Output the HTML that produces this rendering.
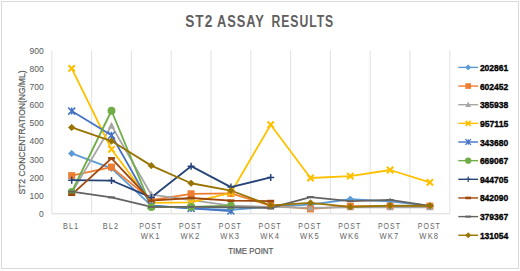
<!DOCTYPE html><html><head><meta charset="utf-8"><style>html,body{margin:0;padding:0;background:#fff;overflow:hidden;}svg{display:block;font-family:"Liberation Sans",sans-serif;}</style></head><body>
<svg width="520" height="271" viewBox="0 0 520 271">
<rect x="0" y="0" width="520" height="271" fill="#fff"/>
<rect x="1.5" y="1.5" width="517" height="267" fill="#fff" stroke="#D9D9D9" stroke-width="1"/>
<text x="185.20" y="27.4" font-size="15.6" font-weight="bold" fill="#5F5F5F" letter-spacing="1.2" textLength="28.20" lengthAdjust="spacingAndGlyphs">ST2</text>
<text x="216.90" y="27.4" font-size="15.6" font-weight="bold" fill="#5F5F5F" letter-spacing="1.2" textLength="48.00" lengthAdjust="spacingAndGlyphs">ASSAY</text>
<text x="271.50" y="27.4" font-size="15.6" font-weight="bold" fill="#5F5F5F" letter-spacing="1.2" textLength="62.60" lengthAdjust="spacingAndGlyphs">RESULTS</text>
<line x1="51.80" y1="50.20" x2="51.80" y2="213.80" stroke="#E4E4E4" stroke-width="1.1"/>
<line x1="91.60" y1="50.20" x2="91.60" y2="213.80" stroke="#E4E4E4" stroke-width="1.1"/>
<line x1="131.40" y1="50.20" x2="131.40" y2="213.80" stroke="#E4E4E4" stroke-width="1.1"/>
<line x1="171.20" y1="50.20" x2="171.20" y2="213.80" stroke="#E4E4E4" stroke-width="1.1"/>
<line x1="211.00" y1="50.20" x2="211.00" y2="213.80" stroke="#E4E4E4" stroke-width="1.1"/>
<line x1="250.80" y1="50.20" x2="250.80" y2="213.80" stroke="#E4E4E4" stroke-width="1.1"/>
<line x1="290.60" y1="50.20" x2="290.60" y2="213.80" stroke="#E4E4E4" stroke-width="1.1"/>
<line x1="330.40" y1="50.20" x2="330.40" y2="213.80" stroke="#E4E4E4" stroke-width="1.1"/>
<line x1="370.20" y1="50.20" x2="370.20" y2="213.80" stroke="#E4E4E4" stroke-width="1.1"/>
<line x1="410.00" y1="50.20" x2="410.00" y2="213.80" stroke="#E4E4E4" stroke-width="1.1"/>
<line x1="449.80" y1="50.20" x2="449.80" y2="213.80" stroke="#E4E4E4" stroke-width="1.1"/>
<line x1="51.80" y1="213.80" x2="449.80" y2="213.80" stroke="#D9D9D9" stroke-width="1"/>
<text x="43.8" y="217.10" text-anchor="end" font-size="9.6" fill="#595959" textLength="4.75" lengthAdjust="spacingAndGlyphs">0</text>
<text x="43.8" y="198.92" text-anchor="end" font-size="9.6" fill="#595959" textLength="14.25" lengthAdjust="spacingAndGlyphs">100</text>
<text x="43.8" y="180.74" text-anchor="end" font-size="9.6" fill="#595959" textLength="14.25" lengthAdjust="spacingAndGlyphs">200</text>
<text x="43.8" y="162.57" text-anchor="end" font-size="9.6" fill="#595959" textLength="14.25" lengthAdjust="spacingAndGlyphs">300</text>
<text x="43.8" y="144.39" text-anchor="end" font-size="9.6" fill="#595959" textLength="14.25" lengthAdjust="spacingAndGlyphs">400</text>
<text x="43.8" y="126.21" text-anchor="end" font-size="9.6" fill="#595959" textLength="14.25" lengthAdjust="spacingAndGlyphs">500</text>
<text x="43.8" y="108.03" text-anchor="end" font-size="9.6" fill="#595959" textLength="14.25" lengthAdjust="spacingAndGlyphs">600</text>
<text x="43.8" y="89.86" text-anchor="end" font-size="9.6" fill="#595959" textLength="14.25" lengthAdjust="spacingAndGlyphs">700</text>
<text x="43.8" y="71.68" text-anchor="end" font-size="9.6" fill="#595959" textLength="14.25" lengthAdjust="spacingAndGlyphs">800</text>
<text x="43.8" y="53.50" text-anchor="end" font-size="9.6" fill="#595959" textLength="14.25" lengthAdjust="spacingAndGlyphs">900</text>
<text x="71.10" y="228.60" text-anchor="middle" font-size="8.8" fill="#666666" letter-spacing="1.3" textLength="16.20" lengthAdjust="spacingAndGlyphs">BL1</text>
<text x="110.90" y="228.60" text-anchor="middle" font-size="8.8" fill="#666666" letter-spacing="1.3" textLength="16.30" lengthAdjust="spacingAndGlyphs">BL2</text>
<text x="150.70" y="228.60" text-anchor="middle" font-size="8.8" fill="#666666" letter-spacing="1.3" textLength="23.10" lengthAdjust="spacingAndGlyphs">POST</text>
<text x="150.70" y="239.10" text-anchor="middle" font-size="8.8" fill="#666666" letter-spacing="1.3" textLength="19.90" lengthAdjust="spacingAndGlyphs">WK1</text>
<text x="190.50" y="228.60" text-anchor="middle" font-size="8.8" fill="#666666" letter-spacing="1.3" textLength="23.10" lengthAdjust="spacingAndGlyphs">POST</text>
<text x="190.50" y="239.10" text-anchor="middle" font-size="8.8" fill="#666666" letter-spacing="1.3" textLength="19.90" lengthAdjust="spacingAndGlyphs">WK2</text>
<text x="230.30" y="228.60" text-anchor="middle" font-size="8.8" fill="#666666" letter-spacing="1.3" textLength="23.10" lengthAdjust="spacingAndGlyphs">POST</text>
<text x="230.30" y="239.10" text-anchor="middle" font-size="8.8" fill="#666666" letter-spacing="1.3" textLength="19.90" lengthAdjust="spacingAndGlyphs">WK3</text>
<text x="270.10" y="228.60" text-anchor="middle" font-size="8.8" fill="#666666" letter-spacing="1.3" textLength="23.10" lengthAdjust="spacingAndGlyphs">POST</text>
<text x="270.10" y="239.10" text-anchor="middle" font-size="8.8" fill="#666666" letter-spacing="1.3" textLength="19.90" lengthAdjust="spacingAndGlyphs">WK4</text>
<text x="309.90" y="228.60" text-anchor="middle" font-size="8.8" fill="#666666" letter-spacing="1.3" textLength="23.10" lengthAdjust="spacingAndGlyphs">POST</text>
<text x="309.90" y="239.10" text-anchor="middle" font-size="8.8" fill="#666666" letter-spacing="1.3" textLength="19.90" lengthAdjust="spacingAndGlyphs">WK5</text>
<text x="349.70" y="228.60" text-anchor="middle" font-size="8.8" fill="#666666" letter-spacing="1.3" textLength="23.10" lengthAdjust="spacingAndGlyphs">POST</text>
<text x="349.70" y="239.10" text-anchor="middle" font-size="8.8" fill="#666666" letter-spacing="1.3" textLength="19.90" lengthAdjust="spacingAndGlyphs">WK6</text>
<text x="389.50" y="228.60" text-anchor="middle" font-size="8.8" fill="#666666" letter-spacing="1.3" textLength="23.10" lengthAdjust="spacingAndGlyphs">POST</text>
<text x="389.50" y="239.10" text-anchor="middle" font-size="8.8" fill="#666666" letter-spacing="1.3" textLength="19.90" lengthAdjust="spacingAndGlyphs">WK7</text>
<text x="429.30" y="228.60" text-anchor="middle" font-size="8.8" fill="#666666" letter-spacing="1.3" textLength="23.10" lengthAdjust="spacingAndGlyphs">POST</text>
<text x="429.30" y="239.10" text-anchor="middle" font-size="8.8" fill="#666666" letter-spacing="1.3" textLength="19.90" lengthAdjust="spacingAndGlyphs">WK8</text>
<text x="250.8" y="254.3" text-anchor="middle" font-size="9" fill="#595959" stroke="#595959" stroke-width="0.2" textLength="45" lengthAdjust="spacingAndGlyphs">TIME POINT</text>
<text transform="translate(24.6,132.5) rotate(-90)" x="0" y="0" text-anchor="middle" font-size="8.6" fill="#595959" stroke="#595959" stroke-width="0.2" textLength="124" lengthAdjust="spacingAndGlyphs">ST2 CONCENTRATION(NG/ML)</text>
<path d="M71.70 153.45L111.50 168.36L151.30 205.62L191.10 208.35L230.90 209.80L270.70 206.53L310.50 204.71L350.30 199.26L390.10 201.44L429.90 205.80" fill="none" stroke="#5B9BD5" stroke-width="1.8" stroke-linejoin="round" stroke-linecap="round"/>
<path d="M71.70 175.63L111.50 167.08L151.30 200.17L191.10 193.80L230.90 193.44L270.70 205.62L310.50 208.89L350.30 206.17L390.10 206.17L429.90 206.17" fill="none" stroke="#ED7D31" stroke-width="1.8" stroke-linejoin="round" stroke-linecap="round"/>
<path d="M71.70 192.90L111.50 125.64L151.30 194.71L191.10 200.17L230.90 205.62L270.70 206.89L310.50 207.80L350.30 207.26L390.10 207.26L429.90 207.26" fill="none" stroke="#A5A5A5" stroke-width="1.8" stroke-linejoin="round" stroke-linecap="round"/>
<path d="M71.70 68.38L111.50 149.27L151.30 202.89L191.10 202.35L230.90 192.90L270.70 124.73L310.50 177.99L350.30 176.17L390.10 169.99L429.90 182.35" fill="none" stroke="#FFC000" stroke-width="1.8" stroke-linejoin="round" stroke-linecap="round"/>
<path d="M71.70 111.10L111.50 135.27L151.30 205.62L191.10 208.35L230.90 211.07" fill="none" stroke="#4472C4" stroke-width="1.8" stroke-linejoin="round" stroke-linecap="round"/>
<path d="M71.70 191.99L111.50 110.73L151.30 207.07L191.10 206.89L230.90 205.62" fill="none" stroke="#70AD47" stroke-width="1.8" stroke-linejoin="round" stroke-linecap="round"/>
<path d="M71.70 180.17L111.50 180.53L151.30 197.44L191.10 166.17L230.90 187.08L270.70 177.44" fill="none" stroke="#264478" stroke-width="1.8" stroke-linejoin="round" stroke-linecap="round"/>
<path d="M71.70 194.71L111.50 158.36L151.30 200.71L191.10 197.99L230.90 200.71L270.70 201.08" fill="none" stroke="#9E480E" stroke-width="1.8" stroke-linejoin="round" stroke-linecap="round"/>
<path d="M71.70 191.62L111.50 197.44L151.30 206.89L191.10 206.89L230.90 207.26L270.70 207.98L310.50 197.08L350.30 201.08L390.10 199.98L429.90 205.80" fill="none" stroke="#636363" stroke-width="1.8" stroke-linejoin="round" stroke-linecap="round"/>
<path d="M71.70 127.46L111.50 141.09L151.30 165.63L191.10 183.26L230.90 190.53L270.70 205.44L310.50 202.89L350.30 206.89L390.10 205.62L429.90 205.80" fill="none" stroke="#997300" stroke-width="1.8" stroke-linejoin="round" stroke-linecap="round"/>
<path d="M71.70 150.23L74.92 153.45L71.70 156.67L68.48 153.45Z" fill="#5B9BD5" stroke="#5B9BD5" stroke-width="0.8"/>
<path d="M111.50 165.14L114.72 168.36L111.50 171.58L108.28 168.36Z" fill="#5B9BD5" stroke="#5B9BD5" stroke-width="0.8"/>
<path d="M151.30 202.40L154.52 205.62L151.30 208.84L148.08 205.62Z" fill="#5B9BD5" stroke="#5B9BD5" stroke-width="0.8"/>
<path d="M191.10 205.13L194.32 208.35L191.10 211.57L187.88 208.35Z" fill="#5B9BD5" stroke="#5B9BD5" stroke-width="0.8"/>
<path d="M230.90 206.58L234.12 209.80L230.90 213.02L227.68 209.80Z" fill="#5B9BD5" stroke="#5B9BD5" stroke-width="0.8"/>
<path d="M270.70 203.31L273.92 206.53L270.70 209.75L267.48 206.53Z" fill="#5B9BD5" stroke="#5B9BD5" stroke-width="0.8"/>
<path d="M310.50 201.49L313.72 204.71L310.50 207.93L307.28 204.71Z" fill="#5B9BD5" stroke="#5B9BD5" stroke-width="0.8"/>
<path d="M350.30 196.04L353.52 199.26L350.30 202.48L347.08 199.26Z" fill="#5B9BD5" stroke="#5B9BD5" stroke-width="0.8"/>
<path d="M390.10 198.22L393.32 201.44L390.10 204.66L386.88 201.44Z" fill="#5B9BD5" stroke="#5B9BD5" stroke-width="0.8"/>
<path d="M429.90 202.58L433.12 205.80L429.90 209.02L426.68 205.80Z" fill="#5B9BD5" stroke="#5B9BD5" stroke-width="0.8"/>
<rect x="68.20" y="172.13" width="7.00" height="7.00" fill="#ED7D31"/>
<rect x="108.00" y="163.58" width="7.00" height="7.00" fill="#ED7D31"/>
<rect x="147.80" y="196.67" width="7.00" height="7.00" fill="#ED7D31"/>
<rect x="187.60" y="190.30" width="7.00" height="7.00" fill="#ED7D31"/>
<rect x="227.40" y="189.94" width="7.00" height="7.00" fill="#ED7D31"/>
<rect x="267.20" y="202.12" width="7.00" height="7.00" fill="#ED7D31"/>
<rect x="307.00" y="205.39" width="7.00" height="7.00" fill="#ED7D31"/>
<rect x="346.80" y="202.67" width="7.00" height="7.00" fill="#ED7D31"/>
<rect x="386.60" y="202.67" width="7.00" height="7.00" fill="#ED7D31"/>
<rect x="426.40" y="202.67" width="7.00" height="7.00" fill="#ED7D31"/>
<path d="M71.70 188.90L75.20 195.90L68.20 195.90Z" fill="#A5A5A5"/>
<path d="M111.50 121.64L115.00 128.64L108.00 128.64Z" fill="#A5A5A5"/>
<path d="M151.30 190.71L154.80 197.71L147.80 197.71Z" fill="#A5A5A5"/>
<path d="M191.10 196.17L194.60 203.17L187.60 203.17Z" fill="#A5A5A5"/>
<path d="M230.90 201.62L234.40 208.62L227.40 208.62Z" fill="#A5A5A5"/>
<path d="M270.70 202.89L274.20 209.89L267.20 209.89Z" fill="#A5A5A5"/>
<path d="M310.50 203.80L314.00 210.80L307.00 210.80Z" fill="#A5A5A5"/>
<path d="M350.30 203.26L353.80 210.26L346.80 210.26Z" fill="#A5A5A5"/>
<path d="M390.10 203.26L393.60 210.26L386.60 210.26Z" fill="#A5A5A5"/>
<path d="M429.90 203.26L433.40 210.26L426.40 210.26Z" fill="#A5A5A5"/>
<path d="M68.55 65.23L74.85 71.53M74.85 65.23L68.55 71.53" stroke="#FFC000" stroke-width="2.1"/>
<path d="M108.35 146.12L114.65 152.42M114.65 146.12L108.35 152.42" stroke="#FFC000" stroke-width="2.1"/>
<path d="M148.15 199.74L154.45 206.04M154.45 199.74L148.15 206.04" stroke="#FFC000" stroke-width="2.1"/>
<path d="M187.95 199.20L194.25 205.50M194.25 199.20L187.95 205.50" stroke="#FFC000" stroke-width="2.1"/>
<path d="M227.75 189.75L234.05 196.05M234.05 189.75L227.75 196.05" stroke="#FFC000" stroke-width="2.1"/>
<path d="M267.55 121.58L273.85 127.88M273.85 121.58L267.55 127.88" stroke="#FFC000" stroke-width="2.1"/>
<path d="M307.35 174.84L313.65 181.14M313.65 174.84L307.35 181.14" stroke="#FFC000" stroke-width="2.1"/>
<path d="M347.15 173.02L353.45 179.32M353.45 173.02L347.15 179.32" stroke="#FFC000" stroke-width="2.1"/>
<path d="M386.95 166.84L393.25 173.14M393.25 166.84L386.95 173.14" stroke="#FFC000" stroke-width="2.1"/>
<path d="M426.75 179.20L433.05 185.50M433.05 179.20L426.75 185.50" stroke="#FFC000" stroke-width="2.1"/>
<path d="M68.20 107.60L75.20 114.60M75.20 107.60L68.20 114.60M71.70 107.60L71.70 114.60" stroke="#4472C4" stroke-width="1.5"/>
<path d="M108.00 131.77L115.00 138.77M115.00 131.77L108.00 138.77M111.50 131.77L111.50 138.77" stroke="#4472C4" stroke-width="1.5"/>
<path d="M147.80 202.12L154.80 209.12M154.80 202.12L147.80 209.12M151.30 202.12L151.30 209.12" stroke="#4472C4" stroke-width="1.5"/>
<path d="M187.60 204.85L194.60 211.85M194.60 204.85L187.60 211.85M191.10 204.85L191.10 211.85" stroke="#4472C4" stroke-width="1.5"/>
<path d="M227.40 207.57L234.40 214.57M234.40 207.57L227.40 214.57M230.90 207.57L230.90 214.57" stroke="#4472C4" stroke-width="1.5"/>
<circle cx="71.70" cy="191.99" r="3.92" fill="#70AD47"/>
<circle cx="111.50" cy="110.73" r="3.92" fill="#70AD47"/>
<circle cx="151.30" cy="207.07" r="3.92" fill="#70AD47"/>
<circle cx="191.10" cy="206.89" r="3.92" fill="#70AD47"/>
<circle cx="230.90" cy="205.62" r="3.92" fill="#70AD47"/>
<path d="M68.20 180.17L75.20 180.17M71.70 176.67L71.70 183.67" stroke="#264478" stroke-width="1.5"/>
<path d="M108.00 180.53L115.00 180.53M111.50 177.03L111.50 184.03" stroke="#264478" stroke-width="1.5"/>
<path d="M147.80 197.44L154.80 197.44M151.30 193.94L151.30 200.94" stroke="#264478" stroke-width="1.5"/>
<path d="M187.60 166.17L194.60 166.17M191.10 162.67L191.10 169.67" stroke="#264478" stroke-width="1.5"/>
<path d="M227.40 187.08L234.40 187.08M230.90 183.58L230.90 190.58" stroke="#264478" stroke-width="1.5"/>
<path d="M267.20 177.44L274.20 177.44M270.70 173.94L270.70 180.94" stroke="#264478" stroke-width="1.5"/>
<rect x="68.20" y="193.41" width="7.00" height="2.6" fill="#9E480E"/>
<rect x="108.00" y="157.06" width="7.00" height="2.6" fill="#9E480E"/>
<rect x="147.80" y="199.41" width="7.00" height="2.6" fill="#9E480E"/>
<rect x="187.60" y="196.69" width="7.00" height="2.6" fill="#9E480E"/>
<rect x="227.40" y="199.41" width="7.00" height="2.6" fill="#9E480E"/>
<rect x="267.20" y="199.78" width="7.00" height="2.6" fill="#9E480E"/>
<rect x="68.20" y="190.62" width="7.00" height="2.0" fill="#636363"/>
<rect x="108.00" y="196.44" width="7.00" height="2.0" fill="#636363"/>
<rect x="147.80" y="205.89" width="7.00" height="2.0" fill="#636363"/>
<rect x="187.60" y="205.89" width="7.00" height="2.0" fill="#636363"/>
<rect x="227.40" y="206.26" width="7.00" height="2.0" fill="#636363"/>
<rect x="267.20" y="206.98" width="7.00" height="2.0" fill="#636363"/>
<rect x="307.00" y="196.08" width="7.00" height="2.0" fill="#636363"/>
<rect x="346.80" y="200.08" width="7.00" height="2.0" fill="#636363"/>
<rect x="386.60" y="198.98" width="7.00" height="2.0" fill="#636363"/>
<rect x="426.40" y="204.80" width="7.00" height="2.0" fill="#636363"/>
<path d="M71.70 124.24L74.92 127.46L71.70 130.68L68.48 127.46Z" fill="#997300" stroke="#997300" stroke-width="0.8"/>
<path d="M111.50 137.87L114.72 141.09L111.50 144.31L108.28 141.09Z" fill="#997300" stroke="#997300" stroke-width="0.8"/>
<path d="M151.30 162.41L154.52 165.63L151.30 168.85L148.08 165.63Z" fill="#997300" stroke="#997300" stroke-width="0.8"/>
<path d="M191.10 180.04L194.32 183.26L191.10 186.48L187.88 183.26Z" fill="#997300" stroke="#997300" stroke-width="0.8"/>
<path d="M230.90 187.31L234.12 190.53L230.90 193.75L227.68 190.53Z" fill="#997300" stroke="#997300" stroke-width="0.8"/>
<path d="M270.70 202.22L273.92 205.44L270.70 208.66L267.48 205.44Z" fill="#997300" stroke="#997300" stroke-width="0.8"/>
<path d="M310.50 199.67L313.72 202.89L310.50 206.11L307.28 202.89Z" fill="#997300" stroke="#997300" stroke-width="0.8"/>
<path d="M350.30 203.67L353.52 206.89L350.30 210.11L347.08 206.89Z" fill="#997300" stroke="#997300" stroke-width="0.8"/>
<path d="M390.10 202.40L393.32 205.62L390.10 208.84L386.88 205.62Z" fill="#997300" stroke="#997300" stroke-width="0.8"/>
<path d="M429.90 202.58L433.12 205.80L429.90 209.02L426.68 205.80Z" fill="#997300" stroke="#997300" stroke-width="0.8"/>
<line x1="458.3" y1="67.40" x2="478.1" y2="67.40" stroke="#5B9BD5" stroke-width="1.4"/>
<path d="M468.20 64.82L470.78 67.40L468.20 69.98L465.62 67.40Z" fill="#5B9BD5" stroke="#5B9BD5" stroke-width="0.8"/>
<text x="479.9" y="70.90" font-size="9.6" font-weight="bold" fill="#000" stroke="#000" stroke-width="0.35" textLength="28.4" lengthAdjust="spacingAndGlyphs">202861</text>
<line x1="458.3" y1="86.05" x2="478.1" y2="86.05" stroke="#ED7D31" stroke-width="1.4"/>
<rect x="465.40" y="83.25" width="5.60" height="5.60" fill="#ED7D31"/>
<text x="479.9" y="89.55" font-size="9.6" font-weight="bold" fill="#000" stroke="#000" stroke-width="0.35" textLength="28.4" lengthAdjust="spacingAndGlyphs">602452</text>
<line x1="458.3" y1="104.70" x2="478.1" y2="104.70" stroke="#A5A5A5" stroke-width="1.4"/>
<path d="M468.20 101.40L471.00 107.00L465.40 107.00Z" fill="#A5A5A5"/>
<text x="479.9" y="108.20" font-size="9.6" font-weight="bold" fill="#000" stroke="#000" stroke-width="0.35" textLength="28.4" lengthAdjust="spacingAndGlyphs">385938</text>
<line x1="458.3" y1="123.35" x2="478.1" y2="123.35" stroke="#FFC000" stroke-width="1.4"/>
<path d="M465.68 120.83L470.72 125.87M470.72 120.83L465.68 125.87" stroke="#FFC000" stroke-width="1.7999999999999998"/>
<text x="479.9" y="126.85" font-size="9.6" font-weight="bold" fill="#000" stroke="#000" stroke-width="0.35" textLength="28.4" lengthAdjust="spacingAndGlyphs">957115</text>
<line x1="458.3" y1="142.00" x2="478.1" y2="142.00" stroke="#4472C4" stroke-width="1.4"/>
<path d="M465.40 139.20L471.00 144.80M471.00 139.20L465.40 144.80M468.20 139.20L468.20 144.80" stroke="#4472C4" stroke-width="1.2"/>
<text x="479.9" y="145.50" font-size="9.6" font-weight="bold" fill="#000" stroke="#000" stroke-width="0.35" textLength="28.4" lengthAdjust="spacingAndGlyphs">343680</text>
<line x1="458.3" y1="160.65" x2="478.1" y2="160.65" stroke="#70AD47" stroke-width="1.4"/>
<circle cx="468.20" cy="160.65" r="3.14" fill="#70AD47"/>
<text x="479.9" y="164.15" font-size="9.6" font-weight="bold" fill="#000" stroke="#000" stroke-width="0.35" textLength="28.4" lengthAdjust="spacingAndGlyphs">669067</text>
<line x1="458.3" y1="179.30" x2="478.1" y2="179.30" stroke="#264478" stroke-width="1.4"/>
<path d="M465.40 179.30L471.00 179.30M468.20 176.50L468.20 182.10" stroke="#264478" stroke-width="1.2"/>
<text x="479.9" y="182.80" font-size="9.6" font-weight="bold" fill="#000" stroke="#000" stroke-width="0.35" textLength="28.4" lengthAdjust="spacingAndGlyphs">944705</text>
<line x1="458.3" y1="197.95" x2="478.1" y2="197.95" stroke="#9E480E" stroke-width="1.4"/>
<rect x="465.40" y="196.65" width="5.60" height="2.6" fill="#9E480E"/>
<text x="479.9" y="201.45" font-size="9.6" font-weight="bold" fill="#000" stroke="#000" stroke-width="0.35" textLength="28.4" lengthAdjust="spacingAndGlyphs">842090</text>
<line x1="458.3" y1="216.60" x2="478.1" y2="216.60" stroke="#636363" stroke-width="1.4"/>
<rect x="465.40" y="215.60" width="5.60" height="2.0" fill="#636363"/>
<text x="479.9" y="220.10" font-size="9.6" font-weight="bold" fill="#000" stroke="#000" stroke-width="0.35" textLength="28.4" lengthAdjust="spacingAndGlyphs">379367</text>
<line x1="458.3" y1="235.25" x2="478.1" y2="235.25" stroke="#997300" stroke-width="1.4"/>
<path d="M468.20 232.67L470.78 235.25L468.20 237.83L465.62 235.25Z" fill="#997300" stroke="#997300" stroke-width="0.8"/>
<text x="479.9" y="238.75" font-size="9.6" font-weight="bold" fill="#000" stroke="#000" stroke-width="0.35" textLength="28.4" lengthAdjust="spacingAndGlyphs">131054</text>
</svg></body></html>
